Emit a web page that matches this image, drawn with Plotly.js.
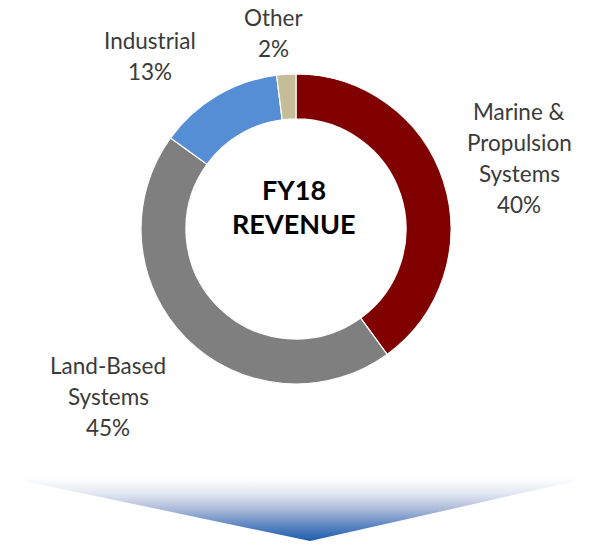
<!DOCTYPE html>
<html>
<head>
<meta charset="utf-8">
<script src="https://cdn.plot.ly/plotly-3.0.1.min.js"></script>
<style>html,body{margin:0;padding:0;background:#fff;}#chart{width:598px;height:545px;}</style>
</head>
<body>
<div id="chart"></div>
<script>
const categories = ["Marine &\nPropulsion\nSystems", "Land-Based\nSystems", "Industrial", "Other"];
const shares = [40, 45, 13, 2];
const colors = ["#800000", "#7F7F7F", "#558ED5", "#C4BD97"];
const centerTitle = ["FY18", "REVENUE"];

const fontFam = "Lato, 'Open Sans', sans-serif";
const labelFont = {family: fontFam, size: 22.5, color: "#3A3A3A"};
// position of first line of each label and the line step
const labelPos = [
  {x: 519, y: 111},
  {x: 108, y: 365},
  {x: 150, y: 40},
  {x: 273, y: 17}
];
const lineStep = 31;

const pie = {
  type: "pie",
  values: shares,
  labels: categories.map(c => c.replace(/\n/g, " ")),
  marker: {colors: colors, line: {color: "#ffffff", width: 1.2}},
  hole: 0.71,
  sort: false,
  direction: "clockwise",
  rotation: 0,
  textinfo: "none",
  hoverinfo: "skip",
  showlegend: false,
  domain: {x: [141/598, 451/598], y: [161/545, 471/545]}
};

const arrow = {
  type: "scatter",
  x: [0, 598, 310, 0],
  y: [476, 476, 541, 476],
  mode: "lines",
  line: {width: 0, color: "rgba(0,0,0,0)"},
  fill: "toself",
  fillgradient: {
    type: "vertical",
    start: 541,
    stop: 478,
    colorscale: [[0, "#1B5DAD"], [0.25, "#5F86C2"], [0.5, "#A9B9D9"], [0.75, "#E3E7F1"], [1, "#FFFFFF"]]
  },
  hoverinfo: "skip",
  showlegend: false
};

const annotations = [];
labelPos.forEach((p, i) => {
  const lines = categories[i].split("\n").concat([shares[i] + "%"]);
  lines.forEach((t, k) => {
    annotations.push({
      x: p.x, y: p.y + k * lineStep, xref: "x", yref: "y",
      text: t, showarrow: false, font: labelFont, align: "center",
      xanchor: "center", yanchor: "middle"
    });
  });
});
centerTitle.forEach((t, k) => {
  annotations.push({
    x: 294, y: 189 + k * 34, xref: "x", yref: "y",
    text: "<b>" + t + "</b>",
    showarrow: false,
    font: {family: fontFam, size: 27, color: "#000000"},
    align: "center", xanchor: "center", yanchor: "middle"
  });
});

const layout = {
  width: 598, height: 545,
  margin: {l: 0, r: 0, t: 0, b: 0},
  paper_bgcolor: "#ffffff", plot_bgcolor: "rgba(0,0,0,0)",
  xaxis: {range: [0, 598], visible: false, fixedrange: true},
  yaxis: {range: [545, 0], visible: false, fixedrange: true},
  annotations: annotations,
  showlegend: false
};

Plotly.newPlot("chart", [arrow, pie], layout, {displayModeBar: false, staticPlot: true});
</script>
</body>
</html>
